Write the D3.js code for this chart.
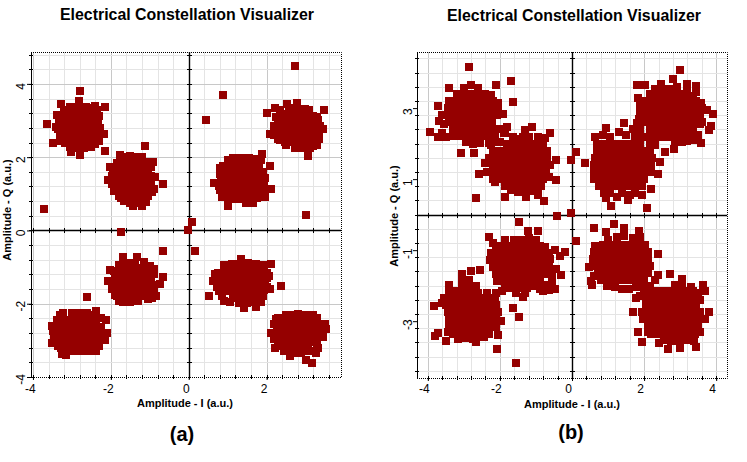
<!DOCTYPE html>
<html><head><meta charset="utf-8">
<script src="https://cdn.jsdelivr.net/npm/d3@7"></script>
<style>html,body{margin:0;padding:0;background:#fff}svg{display:block}text{font-family:"Liberation Sans",Arial,sans-serif;fill:#000}</style>
</head><body><svg id="c" width="747" height="462"></svg>
<script>
const titleText = "Electrical Constellation Visualizer";
const xLabel = "Amplitude - I (a.u.)";
const yLabel = "Amplitude - Q (a.u.)";
const aXTicks = [-4,-2,0,2];
const aYTicks = [-4,-2,0,2,4];
const bXTicks = [-4,-2,0,2,4];
const bYTicks = [-3,-1,1,3];

const aCluster1 = [[-2.79,3.81],[-3.29,3.45],[-3.64,2.91],[-2.15,3.38],[-2.18,2.63],[-2.15,2.17],[-3.48,2.40],[-3.02,2.13],[-2.79,2.06],[-2.41,3.40],[-2.82,3.52],[-3.38,3.15],[-3.41,2.82],
[-3.05,3.36],[-2.85,3.36],[-2.65,3.36],[-2.5,3.33],[-3.22,3.16],[-3.02,3.16],[-2.82,3.16],[-2.62,3.16],[-2.42,3.16],[-2.3,3.12],[-3.32,2.96],[-3.12,2.96],[-2.92,2.96],[-2.72,2.96],[-2.52,2.96],[-2.32,2.96],[-3.36,2.76],[-3.16,2.76],[-2.96,2.76],[-2.76,2.76],[-2.56,2.76],[-2.36,2.76],[-2.28,2.8],[-3.3,2.56],[-3.1,2.56],[-2.9,2.56],[-2.7,2.56],[-2.5,2.56],[-2.36,2.56],[-3.18,2.38],[-2.98,2.38],[-2.78,2.38],[-2.58,2.38],[-2.88,2.24],[-2.68,2.24],
[-3.2,3.3],[-2.35,3.3],[-3.3,3.05],[-2.3,2.45],[-3.3,2.45],[-2.4,2.35],[-3.05,2.28],[-2.5,2.28]];
const aCluster2 = [[-1.12,2.30],[-1.77,2.06],[-2.02,1.74],[-2.07,1.38],[-0.67,1.27],[-0.93,1.86],[-1.21,0.66],[-1.42,0.66],[-1.74,-0.05],[-3.72,0.59],
[-1.52,2.04],[-1.34,2.0],[-1.72,1.88],[-1.52,1.88],[-1.32,1.88],[-1.12,1.88],[-1.84,1.68],[-1.64,1.68],[-1.44,1.68],[-1.24,1.68],[-1.04,1.68],[-0.98,1.72],[-1.96,1.48],[-1.76,1.48],[-1.56,1.48],[-1.36,1.48],[-1.16,1.48],[-0.96,1.48],[-0.86,1.45],[-1.96,1.28],[-1.76,1.28],[-1.56,1.28],[-1.36,1.28],[-1.16,1.28],[-0.96,1.28],[-0.88,1.13],[-1.92,1.08],[-1.72,1.08],[-1.52,1.08],[-1.32,1.08],[-1.12,1.08],[-0.98,1.05],[-1.74,0.88],[-1.54,0.88],[-1.34,0.88],[-1.14,0.88],[-1.52,0.76],[-1.3,0.74],
[-1.85,1.85],[-1.05,1.85],[-1.95,1.6],[-0.95,1.05],[-1.8,0.95],[-1.05,0.95],[-1.65,0.8],[-1.1,0.78],[-1.7,2.0],[-1.2,2.0]];
const aCluster3 = [[0.81,1.71],[0.65,1.30],[1.88,2.09],[2.09,1.77],[2.11,1.14],[1.96,0.92],[0.85,0.92],[1.01,0.66],[1.66,0.74],[1.47,0.76],
[1.14,1.97],[1.34,1.97],[1.54,1.97],[1.72,1.95],[1.0,1.8],[1.2,1.8],[1.4,1.8],[1.6,1.8],[1.8,1.8],[0.9,1.6],[1.1,1.6],[1.3,1.6],[1.5,1.6],[1.7,1.6],[1.9,1.6],[0.84,1.42],[1.04,1.42],[1.24,1.42],[1.44,1.42],[1.64,1.42],[1.84,1.42],[1.95,1.42],[0.78,1.22],[0.98,1.22],[1.18,1.22],[1.38,1.22],[1.58,1.22],[1.78,1.22],[1.92,1.24],[0.92,1.04],[1.12,1.04],[1.32,1.04],[1.52,1.04],[1.72,1.04],[1.1,0.86],[1.3,0.86],[1.5,0.86],[1.68,0.88],
[1.0,1.92],[1.85,1.92],[0.88,1.75],[0.8,1.55],[0.8,1.1],[0.9,0.95],[1.9,1.1],[1.85,0.95],[1.0,0.85],[1.75,0.88]];
const aCluster4 = [[2.73,4.50],[0.88,3.70],[0.45,3.01],[2.0,3.21],[2.22,3.33],[3.48,3.29],[3.44,2.77],[2.09,2.63],[3.06,2.04],[3.02,0.42],[2.79,3.47],[2.52,3.45],[3.2,2.30],[3.33,3.01],[2.35,2.47],[0.08,0.24],[-0.03,0.01],
[2.58,3.34],[2.78,3.34],[2.98,3.32],[2.42,3.18],[2.62,3.18],[2.82,3.18],[3.02,3.18],[3.2,3.12],[2.3,2.98],[2.5,2.98],[2.7,2.98],[2.9,2.98],[3.1,2.98],[3.28,2.92],[2.24,2.78],[2.44,2.78],[2.64,2.78],[2.84,2.78],[3.04,2.78],[3.24,2.78],[3.34,2.66],[2.2,2.6],[2.4,2.6],[2.6,2.6],[2.8,2.6],[3.0,2.6],[3.2,2.6],[2.48,2.42],[2.68,2.42],[2.88,2.42],[3.08,2.42],[3.26,2.42],[2.72,2.26],[2.92,2.24],[3.12,2.24],
[2.35,3.3],[3.1,3.3],[2.25,3.1],[3.3,3.1],[2.18,2.85],[3.38,2.85],[3.35,2.5],[2.3,2.5],[2.5,2.32],[3.3,2.32]];
const aCluster5 = [[-0.67,-0.56],[0.16,-0.56],[-1.68,-0.72],[-1.34,-0.72],[-1.15,-0.86],[-0.67,-1.28],[-0.74,-1.47],[-0.84,-1.79],[-2.62,-1.81],[-2.02,-1.08],[-2.07,-1.38],
[-1.58,-0.88],[-1.38,-0.88],[-1.75,-1.0],[-1.55,-1.02],[-1.35,-1.02],[-1.15,-1.02],[-0.95,-1.08],[-1.9,-1.2],[-1.7,-1.2],[-1.5,-1.2],[-1.3,-1.2],[-1.1,-1.2],[-0.9,-1.2],[-1.98,-1.4],[-1.78,-1.4],[-1.58,-1.4],[-1.38,-1.4],[-1.18,-1.4],[-0.98,-1.4],[-0.9,-1.5],[-1.96,-1.6],[-1.76,-1.6],[-1.56,-1.6],[-1.36,-1.6],[-1.16,-1.6],[-0.96,-1.6],[-1.84,-1.78],[-1.64,-1.78],[-1.44,-1.78],[-1.24,-1.78],[-1.04,-1.78],[-1.68,-1.94],[-1.5,-1.96],[-1.3,-1.92],[-1.05,-1.88],
[-1.8,-0.95],[-1.0,-0.98],[-0.9,-1.05],[-1.92,-1.1],[-0.9,-1.7],[-1.9,-1.75],[-1.8,-1.92],[-0.95,-1.85]];
const aCluster6 = [[-3.52,-3.07],[-3.52,-2.61],[-3.22,-2.25],[-2.37,-2.2],[-2.13,-2.45],[-2.09,-2.8],[-2.15,-3.0],[-2.38,-3.29],[-2.62,-3.29],[-3.25,-3.38],[-3.14,-3.41],
[-3.0,-2.26],[-2.8,-2.26],[-2.6,-2.26],[-3.38,-2.44],[-3.18,-2.44],[-2.98,-2.44],[-2.78,-2.44],[-2.58,-2.44],[-2.38,-2.44],[-3.42,-2.64],[-3.22,-2.64],[-3.02,-2.64],[-2.82,-2.64],[-2.62,-2.64],[-2.42,-2.64],[-2.24,-2.64],[-3.44,-2.84],[-3.24,-2.84],[-3.04,-2.84],[-2.84,-2.84],[-2.64,-2.84],[-2.44,-2.84],[-2.24,-2.84],[-3.4,-3.04],[-3.2,-3.04],[-3.0,-3.04],[-2.8,-3.04],[-2.6,-3.04],[-2.4,-3.04],[-3.28,-3.2],[-3.08,-3.2],[-2.88,-3.2],[-2.68,-3.2],[-2.48,-3.2],[-2.98,-3.3],[-2.8,-3.3],
[-3.3,-2.3],[-2.4,-2.3],[-2.25,-2.4],[-3.48,-2.75],[-3.45,-2.95],[-2.2,-2.95],[-3.35,-3.15],[-2.3,-3.15],[-3.15,-3.3],[-2.5,-3.3]];
const aCluster7 = [[2.12,-0.92],[2.37,-1.51],[0.52,-1.79],[0.68,-1.2],[0.63,-1.38],[0.91,-1.92],[1.41,-2.13],[1.73,-2.09],[1.34,-0.79],[2.07,-1.25],[2.09,-1.6],
[1.12,-0.92],[1.32,-0.92],[1.52,-0.9],[1.72,-0.92],[0.95,-1.08],[1.15,-1.08],[1.35,-1.08],[1.55,-1.08],[1.75,-1.08],[1.92,-1.08],[0.82,-1.28],[1.02,-1.28],[1.22,-1.28],[1.42,-1.28],[1.62,-1.28],[1.82,-1.28],[2.0,-1.3],[0.76,-1.48],[0.96,-1.48],[1.16,-1.48],[1.36,-1.48],[1.56,-1.48],[1.76,-1.48],[1.96,-1.48],[0.78,-1.66],[0.98,-1.66],[1.18,-1.66],[1.38,-1.66],[1.58,-1.66],[1.78,-1.66],[1.94,-1.62],[1.14,-1.84],[1.34,-1.84],[1.54,-1.84],[1.74,-1.84],[1.3,-1.98],[1.5,-1.98],[1.7,-1.96],
[0.9,-0.95],[1.9,-0.95],[0.75,-1.15],[2.02,-1.15],[0.72,-1.55],[2.0,-1.55],[0.85,-1.78],[1.9,-1.78],[1.05,-1.95],[1.85,-1.95]];
const aCluster8 = [[3.5,-2.54],[3.53,-2.69],[3.44,-2.9],[3.16,-3.62],[3.02,-3.54],[3.33,-3.22],[3.27,-3.34],[2.59,-3.43],[2.24,-2.43],[2.11,-2.8],[2.22,-3.2],[2.8,-2.27],
[2.5,-2.3],[2.66,-2.3],[3.0,-2.3],[3.2,-2.32],[2.38,-2.48],[2.58,-2.48],[2.78,-2.48],[2.98,-2.48],[3.18,-2.48],[3.34,-2.54],[2.26,-2.66],[2.46,-2.66],[2.66,-2.66],[2.86,-2.66],[3.06,-2.66],[3.26,-2.66],[3.42,-2.72],[2.24,-2.86],[2.44,-2.86],[2.64,-2.86],[2.84,-2.86],[3.04,-2.86],[3.24,-2.86],[2.28,-3.04],[2.48,-3.04],[2.68,-3.04],[2.88,-3.04],[3.08,-3.04],[3.28,-3.02],[2.46,-3.2],[2.66,-3.2],[2.86,-3.2],[3.06,-3.2],[2.68,-3.34],[2.88,-3.34],[3.0,-3.3],
[2.3,-2.4],[3.3,-2.4],[2.2,-2.55],[3.45,-2.6],[2.18,-2.95],[3.4,-2.85],[2.3,-3.15],[3.3,-3.1],[2.45,-3.3],[3.15,-3.3]];

const bCluster1 = [[-2.87,4.17],[-1.69,3.77],[-2.12,3.64],[-1.65,3.16],[-3.4,3.56],[-3.72,3.07],[-3.7,2.65],[-3.93,2.32],[-3.72,2.2],[-3.09,1.73],[-2.73,1.73],[-1.92,2.84],[-2.59,1.15],[-2.66,0.48],
[-3.0,3.56],[-2.8,3.66],[-2.6,3.56],[-3.2,3.4],[-3.0,3.4],[-2.8,3.4],[-2.6,3.4],[-2.4,3.4],[-2.25,3.38],[-3.4,3.2],[-3.2,3.2],[-3.0,3.2],[-2.8,3.2],[-2.6,3.2],[-2.4,3.2],[-2.2,3.2],[-2.05,3.15],[-3.45,3.0],[-3.25,3.0],[-3.05,3.0],[-2.85,3.0],[-2.65,3.0],[-2.45,3.0],[-2.25,3.0],[-2.05,3.0],[-3.45,2.8],[-3.25,2.8],[-3.05,2.8],[-2.85,2.8],[-2.65,2.8],[-2.45,2.8],[-2.25,2.8],[-2.08,2.8],[-3.42,2.6],[-3.22,2.6],[-3.02,2.6],[-2.82,2.6],[-2.62,2.6],[-2.42,2.6],[-2.22,2.6],[-3.6,2.3],[-3.3,2.42],[-3.1,2.42],[-2.9,2.42],[-2.7,2.42],[-2.5,2.42],[-2.3,2.42],[-2.95,2.22],[-2.75,2.22],[-2.55,2.22],[-2.95,2.05],[-2.75,2.0],
[-3.5,2.2],[-3.3,2.22],[-3.1,2.22],[-2.35,2.22],[-2.15,2.22],[-2.0,2.42],[-1.85,2.3],[-1.8,2.48],[-2.1,2.42],[-2.1,2.05],[-2.3,2.02],[-2.55,2.02],[-3.55,2.55],[-3.6,2.8]];
const bCluster2 = [[-1.31,2.39],[-1.1,2.46],[-0.62,2.31],[-0.44,1.54],[-0.45,0.98],[-0.79,0.39],[-0.94,0.54],[-1.29,0.51],[-1.87,0.51],[-2.13,0.93],[-0.41,-0.03],[-1.48,-0.22],[-1.22,-0.47],[-0.94,-0.45],[-0.02,0.04],[-0.02,1.54],[0.1,1.75],
[-1.9,2.3],[-1.65,2.2],[-1.2,2.18],[-0.95,2.18],[-2.0,2.05],[-1.8,2.0],[-1.6,2.0],[-1.4,2.0],[-1.2,2.0],[-1.0,2.0],[-0.8,2.0],[-2.2,1.8],[-2.0,1.8],[-1.8,1.8],[-1.6,1.8],[-1.4,1.8],[-1.2,1.8],[-1.0,1.8],[-0.8,1.8],[-2.3,1.6],[-2.1,1.6],[-1.9,1.6],[-1.7,1.6],[-1.5,1.6],[-1.3,1.6],[-1.1,1.6],[-0.9,1.6],[-0.7,1.6],[-2.4,1.45],[-2.2,1.4],[-2.0,1.4],[-1.8,1.4],[-1.6,1.4],[-1.4,1.4],[-1.2,1.4],[-1.0,1.4],[-0.8,1.4],[-0.62,1.4],[-2.35,1.2],[-2.15,1.2],[-1.95,1.2],[-1.75,1.2],[-1.55,1.2],[-1.35,1.2],[-1.15,1.2],[-0.95,1.2],[-0.72,1.2],[-2.0,1.0],[-1.8,1.0],[-1.6,1.0],[-1.4,1.0],[-1.2,1.0],[-1.0,1.0],[-0.8,1.0],[-1.85,0.8],[-1.65,0.8],[-1.45,0.8],[-1.25,0.8],[-1.05,0.8],[-0.85,0.8],[-1.7,0.68],[-1.3,0.66],[-1.1,0.66],
[-1.5,2.12],[-1.35,2.18],[-0.75,2.15],[-2.25,1.95],[-0.68,1.8],[-2.2,1.0],[-0.65,1.05],[-1.5,0.65],[-0.95,0.68]];
const bCluster3 = [[0.37,1.45],[0.95,2.44],[1.44,2.57],[2.44,1.47],[2.39,1.15],[2.2,0.73],[1.93,0.56],[2.07,0.2],[1.07,0.23],[1.56,0.42],[0.93,0.46],[2.57,1.75],[0.6,-0.39],[1.16,-0.25],[1.44,-0.37],[0.93,-0.49],[1.85,-0.46],[0.12,-0.75],
[0.85,2.25],[1.05,2.2],[1.3,2.32],[1.5,2.25],[1.75,2.18],[0.7,2.0],[0.9,2.0],[1.1,2.0],[1.3,2.0],[1.5,2.0],[1.7,2.0],[1.9,2.0],[0.68,1.8],[0.88,1.8],[1.08,1.8],[1.28,1.8],[1.48,1.8],[1.68,1.8],[1.88,1.8],[2.08,1.8],[0.65,1.6],[0.85,1.6],[1.05,1.6],[1.25,1.6],[1.45,1.6],[1.65,1.6],[1.85,1.6],[2.05,1.6],[2.22,1.6],[0.62,1.4],[0.82,1.4],[1.02,1.4],[1.22,1.4],[1.42,1.4],[1.62,1.4],[1.82,1.4],[2.02,1.4],[2.2,1.4],[0.6,1.2],[0.8,1.2],[1.0,1.2],[1.2,1.2],[1.4,1.2],[1.6,1.2],[1.8,1.2],[2.0,1.2],[0.62,1.0],[0.82,1.0],[1.02,1.0],[1.22,1.0],[1.42,1.0],[1.62,1.0],[1.82,1.0],[2.0,1.0],[0.75,0.8],[0.95,0.8],[1.15,0.8],[1.35,0.8],[1.55,0.8],[1.75,0.8],[1.95,0.8],[0.9,0.62],[1.4,0.6],[1.6,0.55],[1.25,0.5],
[1.9,2.4],[2.1,2.2],[1.95,2.2],[2.15,2.0],[2.3,1.95],[1.7,2.4],[2.2,1.2],[2.15,1.8],[0.65,2.2],[1.05,0.62],[1.75,0.62]];
const bCluster4 = [[2.99,4.06],[2.81,3.83],[3.18,3.69],[3.45,3.61],[1.79,3.66],[2.02,3.66],[1.83,3.28],[3.9,2.84],[3.85,2.5],[3.81,2.39],[3.57,2.03],[2.83,1.85],[2.46,3.69],
[2.3,3.55],[2.5,3.55],[2.7,3.55],[2.9,3.6],[3.18,3.5],[3.45,3.45],[2.15,3.4],[2.35,3.4],[2.55,3.4],[2.75,3.4],[2.95,3.4],[3.15,3.4],[3.35,3.35],[2.05,3.2],[2.25,3.2],[2.45,3.2],[2.65,3.2],[2.85,3.2],[3.05,3.2],[3.25,3.2],[3.45,3.2],[3.58,3.15],[2.0,3.0],[2.2,3.0],[2.4,3.0],[2.6,3.0],[2.8,3.0],[3.0,3.0],[3.2,3.0],[3.4,3.0],[3.6,3.0],[1.95,2.8],[2.15,2.8],[2.35,2.8],[2.55,2.8],[2.75,2.8],[2.95,2.8],[3.15,2.8],[3.35,2.8],[3.55,2.8],[1.8,2.58],[2.0,2.6],[2.2,2.6],[2.4,2.6],[2.6,2.6],[2.8,2.6],[3.0,2.6],[3.2,2.6],[3.4,2.6],[3.55,2.55],[2.15,2.4],[2.35,2.4],[2.55,2.4],[2.75,2.4],[2.95,2.4],[3.15,2.4],[3.35,2.4],[2.5,2.2],[2.7,2.2],[2.9,2.2],[3.1,2.2],[3.3,2.25],[2.85,2.05],[3.05,2.05],[3.2,2.08],
[1.9,2.9],[1.9,3.1],[1.85,2.7],[2.3,2.2],[3.5,2.25],[3.6,2.62],[3.75,2.95],[3.35,2.1]];
const bCluster5 = [[-2.31,-0.62],[-0.2,-1.06],[-0.48,-1.0],[-0.34,-1.17],[-0.44,-1.54],[-0.31,-1.69],[-0.48,-2.08],[-0.81,-2.14],[-1.36,-2.31],[-2.54,-1.56],
[-1.85,-0.7],[-1.6,-0.72],[-1.4,-0.72],[-1.2,-0.65],[-1.0,-0.7],[-2.1,-0.88],[-1.9,-0.88],[-1.7,-0.88],[-1.5,-0.88],[-1.3,-0.88],[-1.1,-0.88],[-0.9,-0.88],[-0.76,-0.9],[-2.25,-1.08],[-2.05,-1.08],[-1.85,-1.08],[-1.65,-1.08],[-1.45,-1.08],[-1.25,-1.08],[-1.05,-1.08],[-0.85,-1.08],[-0.65,-1.08],[-2.28,-1.28],[-2.08,-1.28],[-1.88,-1.28],[-1.68,-1.28],[-1.48,-1.28],[-1.28,-1.28],[-1.08,-1.28],[-0.88,-1.28],[-0.68,-1.28],[-2.2,-1.48],[-2.0,-1.48],[-1.8,-1.48],[-1.6,-1.48],[-1.4,-1.48],[-1.2,-1.48],[-1.0,-1.48],[-0.8,-1.48],[-0.64,-1.48],[-2.12,-1.68],[-1.92,-1.68],[-1.72,-1.68],[-1.52,-1.68],[-1.32,-1.68],[-1.12,-1.68],[-0.92,-1.68],[-0.72,-1.68],[-0.55,-1.68],[-2.08,-1.88],[-1.88,-1.88],[-1.68,-1.88],[-1.48,-1.88],[-1.28,-1.88],[-1.08,-1.88],[-0.88,-1.9],[-1.85,-2.06],[-1.65,-2.06],[-1.45,-2.06],[-1.25,-2.06],[-0.65,-2.12],[-1.55,-2.2],[-1.3,-2.2],
[-2.1,-2.2],[-1.95,-2.15],[-0.9,-2.1],[-0.7,-1.98],[-0.55,-1.9],[-2.2,-0.8],[-0.6,-1.25],[-1.05,-2.02]];
const bCluster6 = [[-2.8,-1.6],[-3.06,-1.66],[-3.4,-1.97],[-3.83,-2.58],[-3.72,-3.33],[-3.79,-3.42],[-3.49,-3.56],[-2.66,-3.59],[-2.06,-3.39],[-2.07,-3.77],[-1.54,-4.18],[-1.65,-2.63],[-1.46,-2.89],[-1.98,-3.0],
[-3.05,-1.9],[-2.85,-1.85],[-2.65,-2.02],[-3.4,-2.15],[-3.2,-2.15],[-3.0,-2.12],[-2.8,-2.12],[-2.6,-2.2],[-2.35,-2.2],[-3.55,-2.35],[-3.35,-2.35],[-3.15,-2.35],[-2.95,-2.35],[-2.75,-2.35],[-2.55,-2.35],[-2.35,-2.35],[-2.15,-2.35],[-3.5,-2.55],[-3.3,-2.55],[-3.1,-2.55],[-2.9,-2.55],[-2.7,-2.55],[-2.5,-2.55],[-2.3,-2.55],[-2.1,-2.55],[-3.45,-2.75],[-3.25,-2.75],[-3.05,-2.75],[-2.85,-2.75],[-2.65,-2.75],[-2.45,-2.75],[-2.25,-2.75],[-2.05,-2.75],[-3.42,-2.95],[-3.22,-2.95],[-3.02,-2.95],[-2.82,-2.95],[-2.62,-2.95],[-2.42,-2.95],[-2.22,-2.95],[-2.1,-2.95],[-3.4,-3.15],[-3.2,-3.15],[-3.0,-3.15],[-2.8,-3.15],[-2.6,-3.15],[-2.4,-3.15],[-2.2,-3.15],[-3.3,-3.35],[-3.1,-3.35],[-2.9,-3.35],[-2.7,-3.35],[-2.5,-3.35],[-2.3,-3.35],[-3.15,-3.5],[-2.95,-3.48],[-2.75,-3.5],
[-3.05,-2.0],[-2.85,-2.0],[-3.45,-3.3],[-2.45,-3.45],[-2.1,-3.15],[-3.6,-2.5]];
const bCluster7 = [[2.39,-1.12],[2.71,-1.66],[0.52,-1.87],[0.46,-1.48],[0.63,-0.87],[2.39,-1.7],[1.77,-2.34],
[1.0,-0.7],[1.25,-0.62],[1.45,-0.6],[1.7,-0.65],[1.9,-0.62],[0.85,-0.85],[1.05,-0.85],[1.25,-0.85],[1.45,-0.85],[1.65,-0.85],[1.85,-0.85],[2.02,-0.85],[0.62,-1.05],[0.82,-1.05],[1.02,-1.05],[1.22,-1.05],[1.42,-1.05],[1.62,-1.05],[1.82,-1.05],[2.02,-1.05],[2.12,-1.05],[0.58,-1.25],[0.78,-1.25],[0.98,-1.25],[1.18,-1.25],[1.38,-1.25],[1.58,-1.25],[1.78,-1.25],[1.98,-1.25],[2.12,-1.25],[0.66,-1.45],[0.86,-1.45],[1.06,-1.45],[1.26,-1.45],[1.46,-1.45],[1.66,-1.45],[1.86,-1.45],[2.06,-1.45],[2.16,-1.45],[0.72,-1.65],[0.92,-1.65],[1.12,-1.65],[1.32,-1.65],[1.52,-1.65],[1.72,-1.65],[1.92,-1.65],[2.12,-1.65],[0.55,-1.98],[0.8,-1.85],[1.0,-1.85],[1.2,-1.85],[1.4,-1.85],[1.6,-1.85],[1.8,-1.85],[2.0,-1.85],[0.98,-2.02],[1.18,-2.05],[1.38,-2.1],[1.58,-2.1],[1.78,-2.05],[1.95,-2.05],
[2.15,-2.0],[2.3,-1.85],[2.0,-2.2],[2.2,-2.2],[1.9,-2.3],[0.62,-1.72]];
const bCluster8 = [[3.64,-1.97],[3.69,-2.14],[3.81,-2.75],[3.69,-2.95],[3.04,-1.81],[1.69,-2.75],[1.83,-3.31],[1.94,-3.59],[2.67,-3.78],[2.99,-3.75],[3.44,-3.72],[2.41,-3.61],
[2.85,-1.98],[3.05,-2.0],[3.3,-2.05],[2.35,-2.15],[2.55,-2.15],[2.75,-2.15],[2.95,-2.15],[3.15,-2.15],[3.35,-2.15],[2.2,-2.35],[2.4,-2.35],[2.6,-2.35],[2.8,-2.35],[3.0,-2.35],[3.2,-2.35],[3.4,-2.35],[3.55,-2.4],[2.05,-2.55],[2.25,-2.55],[2.45,-2.55],[2.65,-2.55],[2.85,-2.55],[3.05,-2.55],[3.25,-2.55],[3.45,-2.55],[1.95,-2.75],[2.15,-2.75],[2.35,-2.75],[2.55,-2.75],[2.75,-2.75],[2.95,-2.75],[3.15,-2.75],[3.35,-2.75],[3.55,-2.75],[1.98,-2.95],[2.18,-2.95],[2.38,-2.95],[2.58,-2.95],[2.78,-2.95],[2.98,-2.95],[3.18,-2.95],[3.38,-2.95],[3.52,-2.95],[2.1,-3.15],[2.3,-3.15],[2.5,-3.15],[2.7,-3.15],[2.9,-3.15],[3.1,-3.15],[3.3,-3.15],[3.5,-3.15],[2.2,-3.35],[2.4,-3.35],[2.6,-3.35],[2.8,-3.35],[3.0,-3.35],[3.2,-3.35],[3.42,-3.35],[2.55,-3.52],[2.75,-3.55],[2.95,-3.55],[3.15,-3.52],[3.38,-3.55],
[2.1,-3.3],[3.55,-3.3],[3.5,-2.2],[2.05,-2.35]];

const aPoints = [aCluster1,aCluster2,aCluster3,aCluster4,aCluster5,aCluster6,aCluster7,aCluster8].flat();
const bPoints = [bCluster1,bCluster2,bCluster3,bCluster4,bCluster5,bCluster6,bCluster7,bCluster8].flat();

const svg = d3.select("#c");
const markerColor = "#950000";

function panel(o){
  const x = d3.scaleLinear().domain(o.xDom).range([o.left,o.right]);
  const y = d3.scaleLinear().domain(o.yDom).range([o.bottom,o.top]);
  const g = svg.append("g");
  const xMinor = d3.range(o.xDom[0]-((o.xDom[0]%0.4)), o.xDom[1]+1e-6, 0.4).filter(v=>v>o.xDom[0]+0.02&&v<o.xDom[1]);
  const yMinor = d3.range(o.yDom[0]-((o.yDom[0]%0.4)), o.yDom[1]+1e-6, 0.4).filter(v=>v>o.yDom[0]+0.02&&v<o.yDom[1]);
  const isMajX=v=>o.xTicks.some(t=>Math.abs(t-v)<1e-6), isMajY=v=>o.yTicks.some(t=>Math.abs(t-v)<1e-6);
  // grid
  g.selectAll(".gx").data(xMinor).enter().append("line")
    .attr("x1",d=>Math.round(x(d))+.5).attr("x2",d=>Math.round(x(d))+.5).attr("y1",o.top).attr("y2",o.bottom)
    .attr("stroke",d=>isMajX(d)?"#c8c8c8":"#e4e4e4");
  g.selectAll(".gy").data(yMinor).enter().append("line")
    .attr("y1",d=>Math.round(y(d))+.5).attr("y2",d=>Math.round(y(d))+.5).attr("x1",o.left).attr("x2",o.right)
    .attr("stroke",d=>isMajY(d)?"#c8c8c8":"#e4e4e4");
  // dotted top/right/bottom
  g.append("path").attr("d",`M${o.left},${o.top+.5}H${o.right+.5}V${o.bottom+.5}H${o.left}`)
    .attr("fill","none").attr("stroke","#000").attr("stroke-dasharray","1,1");
  // left spine + minor ticks
  const spine = g.append("g").attr("stroke","#000");
  spine.append("line").attr("x1",o.left+.5).attr("x2",o.left+.5).attr("y1",o.top).attr("y2",o.bottom+1);
  spine.selectAll(".t").data(yMinor).enter().append("line")
    .attr("x1",o.left-2).attr("x2",o.left+2).attr("y1",d=>Math.round(y(d))+.5).attr("y2",d=>Math.round(y(d))+.5);
  spine.selectAll(".t2").data(xMinor).enter().append("line")
    .attr("y1",o.bottom-2).attr("y2",o.bottom+2).attr("x1",d=>Math.round(x(d))+.5).attr("x2",d=>Math.round(x(d))+.5);
  // zero axes
  const zx = Math.round(x(0)), zy = Math.round(y(0));
  const zero = g.append("g").attr("stroke","#000");
  zero.append("line").attr("x1",o.left).attr("x2",o.right).attr("y1",zy+.5).attr("y2",zy+.5).attr("stroke-width",1.4);
  zero.append("line").attr("y1",o.top).attr("y2",o.bottom).attr("x1",zx+.5).attr("x2",zx+.5).attr("stroke-width",1.4);
  zero.selectAll(".zt").data(xMinor).enter().append("line")
    .attr("y1",zy-2).attr("y2",zy+3).attr("x1",d=>Math.round(x(d))+.5).attr("x2",d=>Math.round(x(d))+.5);
  zero.selectAll(".zt2").data(yMinor).enter().append("line")
    .attr("x1",zx-2).attr("x2",zx+3).attr("y1",d=>Math.round(y(d))+.5).attr("y2",d=>Math.round(y(d))+.5);
  // markers
  g.selectAll(".m").data(o.points).enter().append("rect")
    .attr("x",d=>Math.round(x(d[0])-4)).attr("y",d=>Math.round(y(d[1])-4)).attr("width",8).attr("height",8)
    .attr("fill",markerColor).attr("shape-rendering","crispEdges");
  // tick labels with d3 axes
  const ax = g.append("g").attr("transform",`translate(0,${o.bottom})`)
    .call(d3.axisBottom(x).tickValues(o.xTicks).tickFormat(d=>String(d)).tickSize(3));
  ax.select(".domain").remove();
  ax.selectAll("line").attr("stroke","#000");
  ax.selectAll("text").attr("x",o.xLabelDx).attr("y",o.xLabelDy).attr("dy",0)
    .style("font-size","12px").attr("fill","#000");
  const ay = g.append("g").attr("transform",`translate(${o.left},0)`)
    .call(d3.axisLeft(y).tickValues(o.yTicks).tickFormat(d=>String(d)).tickSize(4));
  ay.select(".domain").remove();
  ay.selectAll("line").attr("stroke","#000");
  ay.selectAll("text").attr("x",0).attr("y",0).attr("dy",0)
    .attr("transform",`translate(${o.yLabelX},${o.yLabelDy}) rotate(-90)`)
    .attr("text-anchor","middle").style("font-size","12px").attr("fill","#000");
  // titles
  const t=(s,px,py,size,rot)=>g.append("text").text(s).attr("text-anchor","middle")
    .attr("transform",`translate(${px},${py})`+(rot?" rotate(-90)":""))
    .style("font-size",size+"px").style("font-weight","bold");
  t(titleText,o.titleX,o.titleY,15.9);
  t(xLabel,o.xlX,o.xlY,11);
  t(yLabel,o.ylX,o.ylY,11,true);
  t(o.tag,o.tagX,o.tagY,20);
}

panel({points:aPoints,xDom:[-4.05,3.91],yDom:[-4,4.87],left:31,right:341,top:52,bottom:377,
  xTicks:aXTicks,yTicks:aYTicks,xLabelDx:-3,xLabelDy:16,yLabelX:-6,yLabelDy:2,
  titleX:187,titleY:20,xlX:185,xlY:407,ylX:11,ylY:210,tag:"(a)",tagX:182,tagY:441});
panel({points:bPoints,xDom:[-4.3,4.3],yDom:[-4.6,4.58],left:417,right:727,top:52,bottom:378,
  xTicks:bXTicks,yTicks:bYTicks,xLabelDx:-4,xLabelDy:15,yLabelX:-5,yLabelDy:3,
  titleX:574,titleY:21,xlX:572,xlY:408,ylX:398,ylY:216,tag:"(b)",tagX:571,tagY:439});
</script></body></html>
